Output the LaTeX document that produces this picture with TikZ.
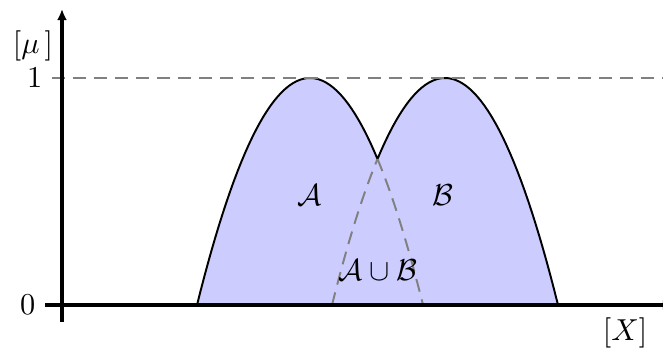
\documentclass[tikz,border=0pt]{standalone}
\usetikzlibrary{arrows.meta}
\begin{document}
\begin{tikzpicture}[x=0.0127cm,y=0.0127cm,
  every node/.style={font=\fontsize{11}{13}\selectfont},
  axis/.style={line width=1.1pt,-{Latex[length=4pt,width=3.6pt]}},
  guide/.style={gray,line width=0.7pt,dash pattern=on 4.7pt off 2.9pt},
  member/.style={fill=blue!20,draw=black,line width=0.7pt}]
\useasboundingbox (-62,-44) rectangle (601,305);
% membership functions A and B, union shaded
\filldraw[member] plot[domain=135:315.5,samples=50] (\x,{227*(1-((\x-248)/113)^2)})
  -- plot[domain=315.5:496,samples=50] (\x,{227*(1-((\x-383)/113)^2)}) -- cycle;
\draw[guide] plot[domain=315.5:361,samples=20] (\x,{227*(1-((\x-248)/113)^2)});
\draw[guide] plot[domain=270:315.5,samples=20] (\x,{227*(1-((\x-383)/113)^2)});
% axes
\coordinate (xfrom) at (-17,0);
\coordinate (xto) at (612,0);
\coordinate (yfrom) at (0,-17);
\coordinate (yto) at (0,296);
\coordinate (onefrom) at (-10,227);
\coordinate (oneto) at (601,227);
\draw[guide] (onefrom) -- (oneto);
\draw[axis] (xfrom) -- (xto);
\draw[axis] (yfrom) -- (yto);
\node[left] (zero) at (xfrom) {$0$};
\node[left] (one) at (onefrom) {$1$};
\node (mu) at (-29,259) {$[\mu\,]$};
\node (xlabel) at (563,-28) {$[X]$};
\node (seta) at (248,110) {$\mathcal{A}$};
\node (setb) at (381,110) {$\mathcal{B}$};
\node (union) at (316,35) {$\mathcal{A}\cup\mathcal{B}$};
\end{tikzpicture}
\end{document}
